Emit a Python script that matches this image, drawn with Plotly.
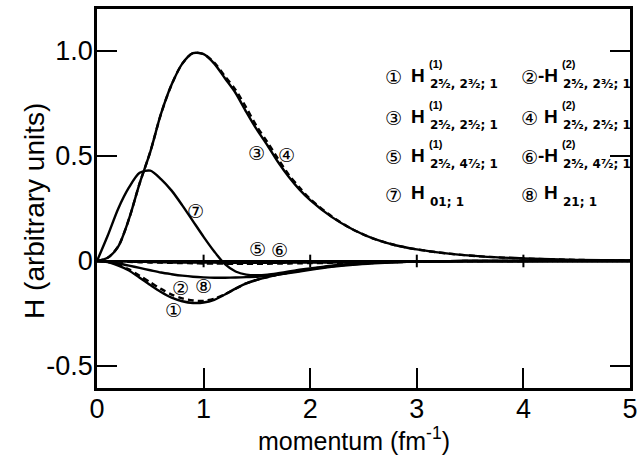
import plotly.graph_objects as go

# ---------------- data ----------------
momentum = [0, 0.1, 0.2, 0.3, 0.4, 0.5, 0.6, 0.7, 0.8, 0.9, 1.0, 1.1, 1.2, 1.3, 1.4,
            1.5, 1.6, 1.7, 1.8, 1.9, 2.0, 2.2, 2.4, 2.6, 2.8, 3.0, 3.3, 3.6, 4.0, 4.5, 5.0]

h1 = [0, -0.005, -0.022, -0.045, -0.08, -0.115, -0.148, -0.175, -0.192, -0.2, -0.198,
      -0.185, -0.16, -0.132, -0.107, -0.09, -0.077, -0.065, -0.055, -0.046, -0.038,
      -0.025, -0.015, -0.009, -0.005, -0.003, -0.001, 0, 0, 0, 0]
h2 = [0, -0.004, -0.018, -0.04, -0.07, -0.102, -0.133, -0.16, -0.178, -0.188, -0.19,
      -0.18, -0.158, -0.132, -0.107, -0.09, -0.077, -0.065, -0.055, -0.046, -0.038,
      -0.025, -0.015, -0.009, -0.005, -0.003, -0.001, 0, 0, 0, 0]
h3 = [0, 0.015, 0.07, 0.2, 0.37, 0.52, 0.70, 0.84, 0.94, 0.99, 0.985, 0.94, 0.87, 0.80,
      0.71, 0.625, 0.55, 0.47, 0.40, 0.34, 0.29, 0.21, 0.15, 0.105, 0.075, 0.055, 0.035,
      0.022, 0.012, 0.005, 0.002]
h4 = [0, 0.015, 0.07, 0.2, 0.37, 0.52, 0.70, 0.84, 0.94, 0.99, 0.985, 0.945, 0.88, 0.815,
      0.73, 0.64, 0.565, 0.485, 0.41, 0.35, 0.295, 0.213, 0.15, 0.105, 0.075, 0.055, 0.035,
      0.022, 0.012, 0.005, 0.002]
h5 = [0, -0.001, -0.002, -0.003, -0.004, -0.005, -0.006, -0.007, -0.007, -0.008, -0.008,
      -0.008, -0.009, -0.009, -0.009, -0.009, -0.009, -0.009, -0.008, -0.008, -0.008,
      -0.007, -0.006, -0.005, -0.004, -0.003, -0.002, -0.001, -0.001, 0, 0]
h6 = [0, -0.001, -0.003, -0.004, -0.006, -0.007, -0.008, -0.009, -0.010, -0.011, -0.012,
      -0.012, -0.013, -0.013, -0.013, -0.013, -0.013, -0.012, -0.012, -0.011, -0.010,
      -0.009, -0.008, -0.006, -0.005, -0.004, -0.002, -0.001, -0.001, 0, 0]
h7 = [0, 0.12, 0.25, 0.35, 0.42, 0.43, 0.39, 0.335, 0.265, 0.19, 0.115, 0.045, -0.015,
      -0.05, -0.065, -0.068, -0.065, -0.058, -0.05, -0.042, -0.035, -0.022, -0.013,
      -0.007, -0.004, -0.002, -0.001, 0, 0, 0, 0]
h8 = [0, -0.004, -0.012, -0.022, -0.033, -0.044, -0.055, -0.063, -0.07, -0.075, -0.078,
      -0.08, -0.08, -0.079, -0.077, -0.075, -0.071, -0.065, -0.058, -0.05, -0.042,
      -0.028, -0.018, -0.011, -0.006, -0.003, -0.001, 0, 0, 0, 0]

series = [h1, h2, h3, h4, h5, h6, h7, h8]
series_dash = ["solid", "6px,4px", "solid", "6px,4px", "solid", "6px,4px", "solid", "solid"]

x_tickvals = [0, 1, 2, 3, 4, 5]
x_ticktext = ["0", "1", "2", "3", "4", "5"]
y_tickvals = [-0.5, 0, 0.5, 1.0]
y_ticktext = ["-0.5", "0", "0.5", "1.0"]
zero_line_ticks = [1, 2, 3, 4]

# curve labels inside the plot
label_text = ["③", "④", "⑦", "⑤", "⑥", "②", "⑧", "①"]
label_x = [1.50, 1.78, 0.925, 1.51, 1.71, 0.785, 0.998, 0.72]
label_y = [0.512, 0.507, 0.24, 0.057, 0.053, -0.129, -0.12, -0.234]

# legend entries: circle, symbol, superscript, subscript
leg_circle = ["①", "②", "③", "④", "⑤", "⑥", "⑦", "⑧"]
leg_symbol = ["H", "-H", "H", "H", "H", "-H", "H", "H"]
leg_sup = ["(1)", "(2)", "(1)", "(2)", "(1)", "(2)", "", ""]
leg_sub = ["2⁵⁄₂, 2³⁄₂; 1", "2⁵⁄₂, 2³⁄₂; 1", "2⁵⁄₂, 2⁵⁄₂; 1", "2⁵⁄₂, 2⁵⁄₂; 1",
           "2⁵⁄₂, 4⁷⁄₂; 1", "2⁵⁄₂, 4⁷⁄₂; 1", "01; 1", "21; 1"]

# ---------------- figure ----------------
W, H = 644, 464
L, R, T, B = 97, 6, 9, 76
FONT = "Liberation Sans, Arial, sans-serif"
CFONT = "DejaVu Sans, Noto Sans CJK JP, sans-serif"

fig = go.Figure()
for ys, dash in zip(series, series_dash):
    fig.add_trace(go.Scatter(x=momentum, y=ys, mode="lines",
                             line=dict(color="black", width=2.4, dash=dash,
                                       shape="spline", smoothing=0.8),
                             showlegend=False, hoverinfo="skip"))


def px2paper(px, py):
    return (px - L) / (W - L - R), (H - B - py) / (H - B - T)


ann = []
for t, lx, ly in zip(label_text, label_x, label_y):
    ann.append(dict(x=lx, y=ly, xref="x", yref="y", text=t, showarrow=False,
                    xanchor="center", yanchor="middle",
                    font=dict(family=CFONT, size=19, color="black")))

row_y = [77, 77, 118, 118, 157, 157, 195, 195]
col_circle = [398, 536]
col_sub = [433, 568]
for i in range(8):
    c = i % 2
    ry = row_y[i]
    xc, yc = px2paper(col_circle[c], ry)
    ann.append(dict(x=xc, y=yc, xref="paper", yref="paper", text=leg_circle[i],
                    xanchor="center", yanchor="middle",
                    showarrow=False, font=dict(family=CFONT, size=19, color="black")))
    xs, ys_ = px2paper(col_sub[c] - 1, ry - 2)
    ann.append(dict(x=xs, y=ys_, xref="paper", yref="paper", xanchor="right",
                    yanchor="middle",
                    text="<b>" + leg_symbol[i] + "</b>", showarrow=False,
                    font=dict(family=FONT, size=19, color="black")))
    if leg_sup[i]:
        xs, ys_ = px2paper(col_sub[c] - 1, ry - 13)
        ann.append(dict(x=xs, y=ys_, xref="paper", yref="paper", xanchor="left",
                        yanchor="middle",
                        text="<b>" + leg_sup[i] + "</b>", showarrow=False,
                        font=dict(family=FONT, size=11, color="black")))
    xs, ys_ = px2paper(col_sub[c], ry + 7)
    ann.append(dict(x=xs, y=ys_, xref="paper", yref="paper", xanchor="left",
                    yanchor="middle",
                    text="<b>" + leg_sub[i] + "</b>", showarrow=False,
                    font=dict(family=CFONT, size=12, color="black")))

# axis titles
xt, yt = px2paper(358, 439)
ann.append(dict(x=xt, y=yt, xref="paper", yref="paper", showarrow=False,
                xanchor="center", yanchor="middle",
                text="momentum (fm<sup>-1</sup>)", font=dict(family=FONT, size=25, color="black")))
xt, yt = px2paper(33, 211)
ann.append(dict(x=xt, y=yt, xref="paper", yref="paper", showarrow=False, textangle=-90,
                xanchor="center", yanchor="middle",
                text="H (arbitrary units)", font=dict(family=FONT, size=28, color="black")))

shapes = []
for tv in zero_line_ticks:
    shapes.append(dict(type="line", xref="x", yref="y", x0=tv, x1=tv, y0=-0.03, y1=0.03,
                       line=dict(color="black", width=2)))

fig.update_layout(
    width=W, height=H, autosize=False,
    margin=dict(l=L, r=R, t=T, b=B, pad=0),
    paper_bgcolor="white", plot_bgcolor="white",
    annotations=ann, shapes=shapes, showlegend=False,
    xaxis=dict(range=[0, 5], tickvals=x_tickvals, ticktext=x_ticktext,
               ticks="inside", ticklen=20, tickwidth=2, tickcolor="black",
               ticklabelstandoff=-5,
               showline=True, linewidth=2.5, linecolor="black", mirror=True,
               showgrid=False, zeroline=False,
               tickfont=dict(family=FONT, size=27, color="black")),
    yaxis=dict(range=[-0.605, 1.2], tickvals=y_tickvals, ticktext=y_ticktext,
               ticks="inside", ticklen=20, tickwidth=2, tickcolor="black",
               ticklabelstandoff=-4,
               showline=True, linewidth=2.5, linecolor="black", mirror="ticks",
               showgrid=False, zeroline=True, zerolinewidth=2.2, zerolinecolor="black",
               tickfont=dict(family=FONT, size=27, color="black")),
)

fig.write_html("out.html")
